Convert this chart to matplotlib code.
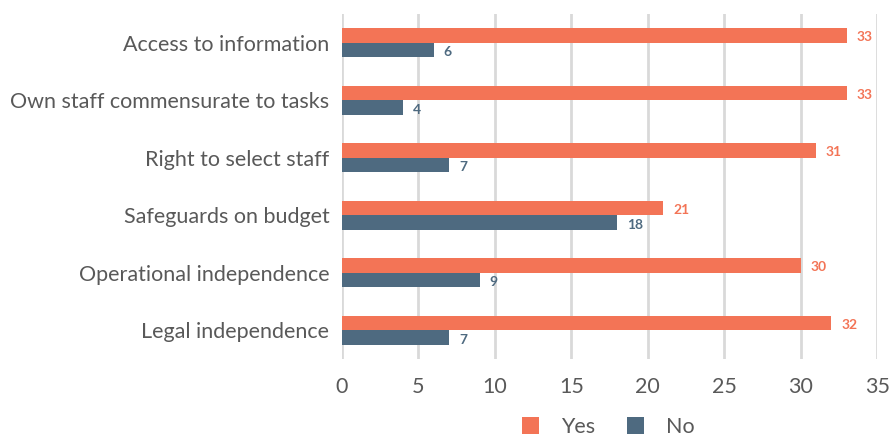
import matplotlib.pyplot as plt
import numpy as np

# --- data ---
categories = ['Access to information', 'Own staff commensurate to tasks',
              'Right to select staff', 'Safeguards on budget',
              'Operational independence', 'Legal independence']
yes_vals = [33, 33, 31, 21, 30, 32]
no_vals = [6, 4, 7, 18, 9, 7]

COLOR_YES = '#F37456'
COLOR_NO = '#4E6A80'
TEXT_GREY = '#595959'

plt.rcParams['font.family'] = ['Lato', 'DejaVu Sans']

fig = plt.figure(figsize=(8.89, 4.41), dpi=100)
ax = fig.add_axes([0.3847, 0.186, 0.602, 0.782])

y = np.arange(len(categories))
h = 0.25
ax.barh(y - h / 2, yes_vals, height=h, color=COLOR_YES, label='Yes', zorder=3)
ax.barh(y + h / 2, no_vals, height=h, color=COLOR_NO, label='No', zorder=3)

for yi, v in zip(y, yes_vals):
    ax.text(v + 0.65, yi - h / 2 + 0.03, str(v), color=COLOR_YES, fontsize=10,
            fontweight='bold', va='center', ha='left')
for yi, v in zip(y, no_vals):
    ax.text(v + 0.65, yi + h / 2 + 0.04, str(v), color=COLOR_NO, fontsize=10,
            fontweight='bold', va='center', ha='left')

ax.set_xlim(0, 35)
ax.set_ylim(len(categories) - 0.5, -0.5)
ax.set_xticks(range(0, 36, 5))
ax.set_yticks(y)
ax.set_yticklabels(categories)

ax.grid(axis='x', color='#D9D9D9', linewidth=2, zorder=0)
ax.grid(axis='y', visible=False)
for s in ax.spines.values():
    s.set_visible(False)
ax.tick_params(axis='both', length=0, labelsize=15.5, labelcolor=TEXT_GREY)
ax.tick_params(axis='x', pad=13)
ax.tick_params(axis='y', pad=9)

leg = fig.legend(loc='lower center', bbox_to_anchor=(0.684, -0.035), ncol=2,
                 frameon=False, fontsize=15.5, handlelength=0.8, handleheight=0.8,
                 columnspacing=1.5, handletextpad=1.0)
for t in leg.get_texts():
    t.set_color(TEXT_GREY)

plt.savefig('out.png')
